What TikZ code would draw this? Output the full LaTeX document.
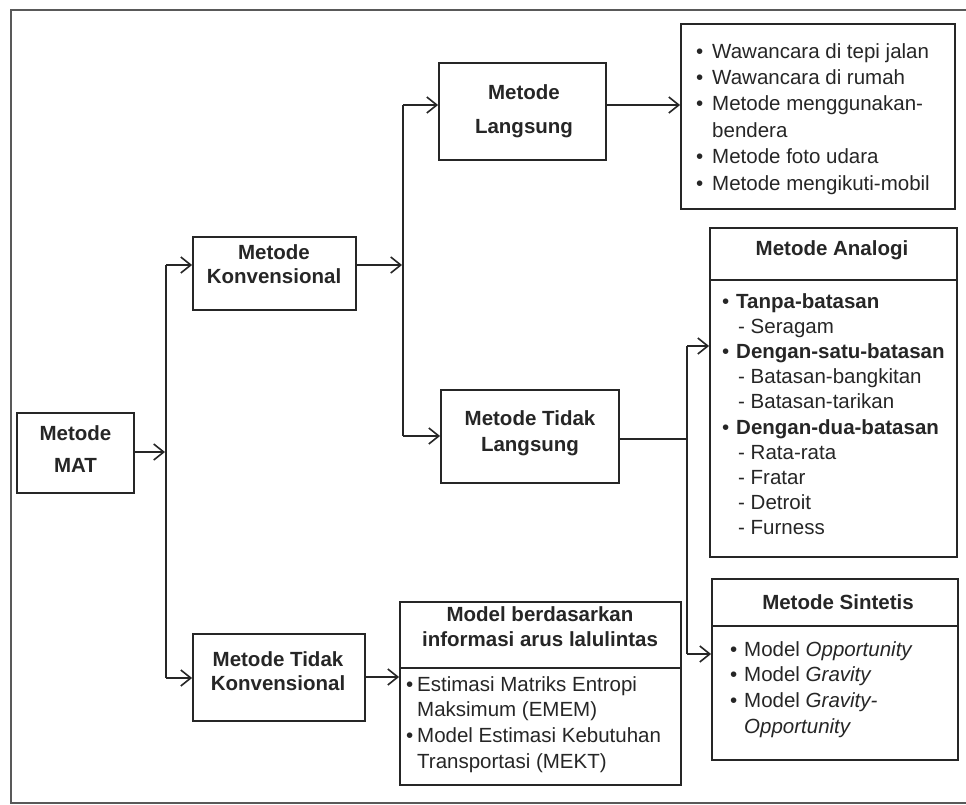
\documentclass[tikz,border=0pt]{standalone}
\usepackage{fontspec}
\setmainfont{Liberation Sans}
\usetikzlibrary{arrows.meta}
\definecolor{ink}{HTML}{262626}
\begin{document}
\begin{tikzpicture}[x=1pt,y=-1pt,
  boxshape/.style={draw=ink, line width=1.8pt, inner sep=0pt},
  ttl/.style={inner sep=0pt, align=center, text=ink, font=\fontsize{20.5}{#1}\selectfont\bfseries},
  ttl/.default=26,
  lst/.style={anchor=north west, inner sep=0pt, align=left, text=ink, font=\fontsize{20.5}{#1}\selectfont},
  lst/.default=26,
  arr/.style={line width=1.6pt, draw=ink, -{Straight Barb[length=10pt,width=16pt,line width=1.6pt]}},
  ln/.style={line width=1.6pt, draw=ink},
]
\newcommand{\bul}[1]{\makebox[#1][l]{\textbullet}}
\useasboundingbox (0,0) rectangle (966,805);
\fill[white] (0,0) rectangle (966,805);
\draw[line width=1.5pt, black!65] (966,10) -- (11,10) -- (11,803) -- (966,803);

% boxes
\node[boxshape, minimum width=117pt, minimum height=80pt] (mat) at (75.5,453) {};
\node[ttl=32] (matt) at (75.5,449) {Metode\\MAT};

\node[boxshape, minimum width=163pt, minimum height=73pt] (konv) at (274.5,273.5) {};
\node[ttl=24] (konvt) at (274,264) {Metode\\Konvensional};

\node[boxshape, minimum width=167pt, minimum height=97pt] (lang) at (522.5,111.5) {};
\node[ttl=34] (langt) at (524,111) {Metode\\Langsung};

\node[boxshape, minimum width=178pt, minimum height=93pt] (tlang) at (530,436.5) {};
\node[ttl=26] (tlangt) at (530,433) {Metode Tidak\\Langsung};

\node[boxshape, minimum width=172pt, minimum height=87pt] (tkonv) at (279,677.5) {};
\node[ttl=24] (tkonvt) at (278,671) {Metode Tidak\\Konvensional};

% top-right list
\node[boxshape, minimum width=274pt, minimum height=185pt] (lbox) at (818,116.5) {};
\node[lst=26.4] (llist) at (696,43) {\bul{16pt}Wawancara di tepi jalan\\
\bul{16pt}Wawancara di rumah\\
\bul{16pt}Metode menggunakan-\\
\hspace*{16pt}bendera\\
\bul{16pt}Metode foto udara\\
\bul{16pt}Metode mengikuti-mobil};

% analogi
\node[boxshape, minimum width=247pt, minimum height=329pt] (ana) at (833.5,392.5) {};
\draw[ln] (ana.west |- 0,280) -- (ana.east |- 0,280);
\node[ttl] (anat) at (832,250) {Metode Analogi};
\node[lst=25.2] (analist) at (722,293) {\bul{14pt}\textbf{Tanpa-batasan}\\
\hspace*{16pt}- Seragam\\
\bul{14pt}\textbf{Dengan-satu-batasan}\\
\hspace*{16pt}- Batasan-bangkitan\\
\hspace*{16pt}- Batasan-tarikan\\
\bul{14pt}\textbf{Dengan-dua-batasan}\\
\hspace*{16pt}- Rata-rata\\
\hspace*{16pt}- Fratar\\
\hspace*{16pt}- Detroit\\
\hspace*{16pt}- Furness};

% sintetis
\node[boxshape, minimum width=246pt, minimum height=181pt] (sin) at (835,669.5) {};
\draw[ln] (sin.west |- 0,626) -- (sin.east |- 0,626);
\node[ttl] (sint) at (838,602) {Metode Sintetis};
\node[lst=25.7] (sinlist) at (730,641) {\bul{14pt}Model \textit{Opportunity}\\
\bul{14pt}Model \textit{Gravity}\\
\bul{14pt}Model \textit{Gravity-}\\
\hspace*{14pt}\textit{Opportunity}};

% model berdasarkan
\node[boxshape, minimum width=281pt, minimum height=183pt] (mod) at (540.5,693.5) {};
\draw[line width=2.6pt, ink] (mod.west |- 0,668) -- (mod.east |- 0,668);
\node[ttl=25] (modt) at (540,626.5) {Model berdasarkan\\informasi arus lalulintas};
\node[lst=25.7] (modlist) at (406,676) {\bul{11pt}Estimasi Matriks Entropi\\
\hspace*{11pt}Maksimum (EMEM)\\
\bul{11pt}Model Estimasi Kebutuhan\\
\hspace*{11pt}Transportasi (MEKT)};

% connectors
\coordinate (j1) at (166,452);
\coordinate (j2) at (403,265);
\coordinate (j3) at (687,439);
\draw[arr] (mat.east |- j1) -- ([xshift=-1pt]j1);
\draw[ln] (j1 |- 0,265) -- (j1 |- 0,678);
\draw[arr] (j1 |- 0,265) -- (konv.west |- 0,265);
\draw[arr] (j1 |- 0,678) -- (tkonv.west |- 0,678);
\draw[arr] (konv.east |- j2) -- ([xshift=-1pt]j2);
\draw[ln] (j2 |- 0,105) -- (j2 |- 0,436);
\draw[arr] (j2 |- 0,105) -- (lang.west |- 0,105);
\draw[arr] (j2 |- 0,436) -- (tlang.west |- 0,436);
\draw[arr] (lang.east |- 0,105) -- (lbox.west |- 0,105);
\draw[ln] (tlang.east |- j3) -- (j3);
\draw[ln] (j3 |- 0,346) -- (j3 |- 0,654);
\draw[arr] (j3 |- 0,346) -- (ana.west |- 0,346);
\draw[arr] (j3 |- 0,654) -- (sin.west |- 0,654);
\draw[arr] (tkonv.east |- 0,677) -- (mod.west |- 0,677);
\end{tikzpicture}
\end{document}
